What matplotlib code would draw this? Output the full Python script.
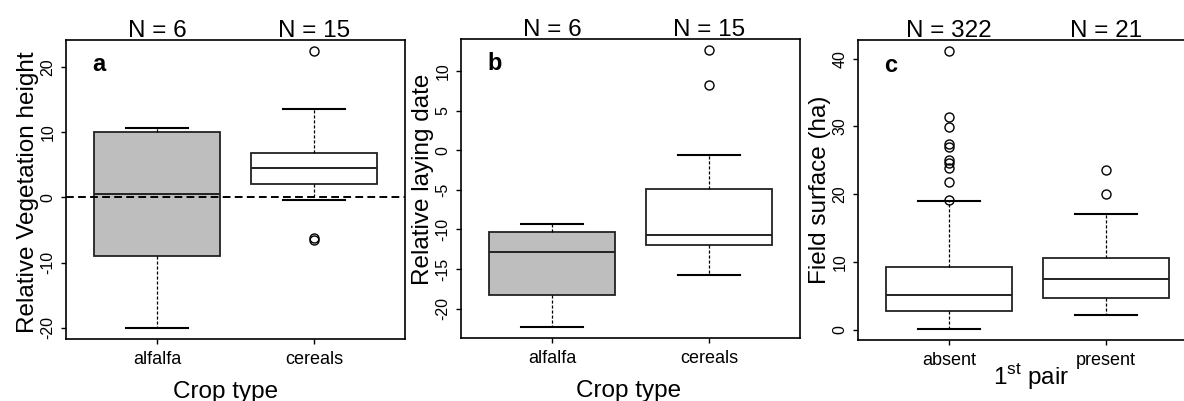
import matplotlib
matplotlib.use("Agg")
import matplotlib.pyplot as plt

plt.rcParams['font.family'] = ['Liberation Sans', 'DejaVu Sans']
plt.rcParams['mathtext.fontset'] = 'custom'
plt.rcParams['mathtext.rm'] = 'Liberation Sans'

crop_labels = ['alfalfa', 'cereals']
pair_labels = ['absent', 'present']

# boxplot summaries: whisker low, Q1, median, Q3, whisker high
veg_alfalfa = [-20.0, -9.05, 0.55, 9.95, 10.65]
veg_cereals = [-0.35, 2.05, 4.5, 6.75, 13.6]
veg_alfalfa_out = []
veg_cereals_out = [22.4, -6.2, -6.5]
veg_n = [6, 15]

lay_alfalfa = [-22.3, -18.3, -12.8, -10.3, -9.3]
lay_cereals = [-15.7, -12.0, -10.7, -4.95, -0.6]
lay_alfalfa_out = []
lay_cereals_out = [12.65, 8.3]
lay_n = [6, 15]

field_absent = [0.15, 2.75, 5.2, 9.25, 19.05]
field_present = [2.25, 4.65, 7.55, 10.65, 17.1]
field_absent_out = [41.1, 31.35, 29.9, 27.35, 27.0, 25.1, 24.6, 23.8, 21.85, 19.2]
field_present_out = [23.5, 20.1]
field_n = [322, 21]

veg_ticks = [-20, -10, 0, 10, 20]
lay_ticks = [-20, -15, -10, -5, 0, 5, 10]
field_ticks = [0, 10, 20, 30, 40]


def make_stats(summary, fliers, label):
    lo, q1, med, q3, hi = summary
    return dict(whislo=lo, q1=q1, med=med, q3=q3, whishi=hi, fliers=fliers, label=label)


def draw_panel(ax, stats, fills, ticks, ylabel, ylabel_y, xlabel, xlabel_x, xlabel_y,
               letter, counts):
    parts = ax.bxp(stats, positions=[1, 2], widths=0.8, capwidths=0.4,
                   patch_artist=True, manage_ticks=False,
                   boxprops=dict(edgecolor='#222222', linewidth=1.3),
                   whiskerprops=dict(color='black', linewidth=0.9, linestyle=(0, (2.5, 1.5))),
                   capprops=dict(color='black', linewidth=1.5),
                   medianprops=dict(color='#222222', linewidth=1.4),
                   flierprops=dict(marker='o', markerfacecolor='none', markeredgecolor='black',
                                   markersize=6.5, markeredgewidth=1.0))
    for box, fc in zip(parts['boxes'], fills):
        box.set_facecolor(fc)

    vals = []
    for s in stats:
        vals += [s['whislo'], s['whishi']] + list(s['fliers'])
    lo, hi = min(vals), max(vals)
    pad = 0.04 * (hi - lo)
    ax.set_ylim(lo - pad, hi + pad)
    ax.set_xlim(0.42, 2.58)

    ax.set_xticks([1, 2])
    ax.set_xticklabels([s['label'] for s in stats], fontsize=13)
    ax.set_yticks(ticks)
    ax.set_yticklabels([str(t) for t in ticks], fontsize=11.5, rotation=90, va='center')
    ax.tick_params(axis='both', length=3.5, width=1.0, color='black')
    ax.tick_params(axis='x', pad=5)
    ax.tick_params(axis='y', pad=4)
    for sp in ax.spines.values():
        sp.set_linewidth(1.2)

    ax.text(-0.145, ylabel_y, ylabel, transform=ax.transAxes, rotation=90,
            fontsize=17.5, ha='left', va='center')
    ax.text(xlabel_x, xlabel_y, xlabel, transform=ax.transAxes,
            fontsize=17.5, ha='center', va='baseline')
    ax.text(0.078, 0.895, letter, transform=ax.transAxes, fontsize=17,
            fontweight='bold', ha='left', va='baseline')
    for pos, n in zip([1, 2], counts):
        ax.annotate(f'N = {n}', xy=(pos, 1.0), xycoords=('data', 'axes fraction'),
                    xytext=(0, 2), textcoords='offset points',
                    fontsize=17.5, ha='center', va='baseline')


W, H = 1184, 401
fig = plt.figure(figsize=(W / 100, H / 100), dpi=100)

ax_a = fig.add_axes([66 / W, (H - 339) / H, 339 / W, 299 / H])
ax_b = fig.add_axes([461 / W, (H - 338) / H, 339 / W, 299 / H])
ax_c = fig.add_axes([858 / W, (H - 340) / H, 339 / W, 300 / H])

draw_panel(ax_a,
           [make_stats(veg_alfalfa, veg_alfalfa_out, crop_labels[0]),
            make_stats(veg_cereals, veg_cereals_out, crop_labels[1])],
           ['#bebebe', 'white'], veg_ticks, 'Relative Vegetation height', 0.49,
           'Crop type', 0.47, -0.197, 'a', veg_n)
ax_a.axhline(0, color='black', linewidth=1.4, linestyle=(0, (4, 2.2)), zorder=3)

draw_panel(ax_b,
           [make_stats(lay_alfalfa, lay_alfalfa_out, crop_labels[0]),
            make_stats(lay_cereals, lay_cereals_out, crop_labels[1])],
           ['#bebebe', 'white'], lay_ticks, 'Relative laying date', 0.53,
           'Crop type', 0.493, -0.197, 'b', lay_n)

draw_panel(ax_c,
           [make_stats(field_absent, field_absent_out, pair_labels[0]),
            make_stats(field_present, field_present_out, pair_labels[1])],
           ['white', 'white'], field_ticks, 'Field surface (ha)', 0.5,
           r'1$^{\mathrm{st}}$ pair', 0.51, -0.147, 'c', field_n)

fig.savefig('out.png', dpi=100)
